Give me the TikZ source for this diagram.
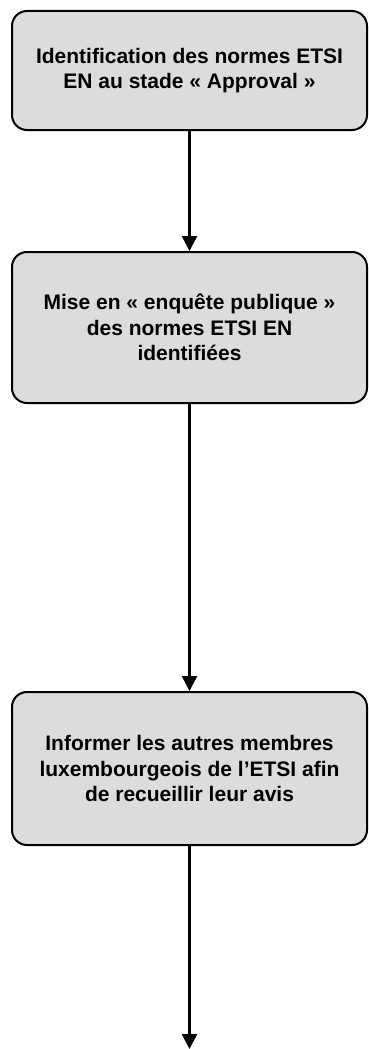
\documentclass[tikz,border=0pt]{standalone}
\usepackage{fontspec}
\setmainfont{Liberation Sans}
\usetikzlibrary{arrows.meta}
\definecolor{boxgray}{HTML}{DCDCDC}
\tikzset{
  stepbox/.style={draw=black, line width=2pt, fill=boxgray, rounded corners=15pt,
    align=center, font=\bfseries\fontsize{21}{25.5}\selectfont, inner sep=0pt},
  flow/.style={draw=black, line width=2.5pt, -{Triangle[width=15pt,length=15pt]}}
}
\begin{document}
\begin{tikzpicture}[x=1pt,y=-1pt]
\useasboundingbox (0,0) rectangle (368,1049);
\node[stepbox, minimum width=355pt, minimum height=119pt] (b1) at (189.5,70.5)
  {Identification des normes ETSI\\EN au stade « Approval »};
\node[stepbox, minimum width=355pt, minimum height=151pt] (b2) at (189.5,327.5)
  {Mise en « enquête publique »\\des normes ETSI EN\\identifiées};
\node[stepbox, minimum width=355pt, minimum height=153pt] (b3) at (189.5,768.5)
  {Informer les autres membres\\luxembourgeois de l’ETSI afin\\de recueillir leur avis};
\coordinate (end) at (189.5,1049);
\draw[flow] (b1.south) -- (b2.north);
\draw[flow] (b2.south) -- (b3.north);
\draw[flow] (b3.south) -- (end);
\end{tikzpicture}
\end{document}
